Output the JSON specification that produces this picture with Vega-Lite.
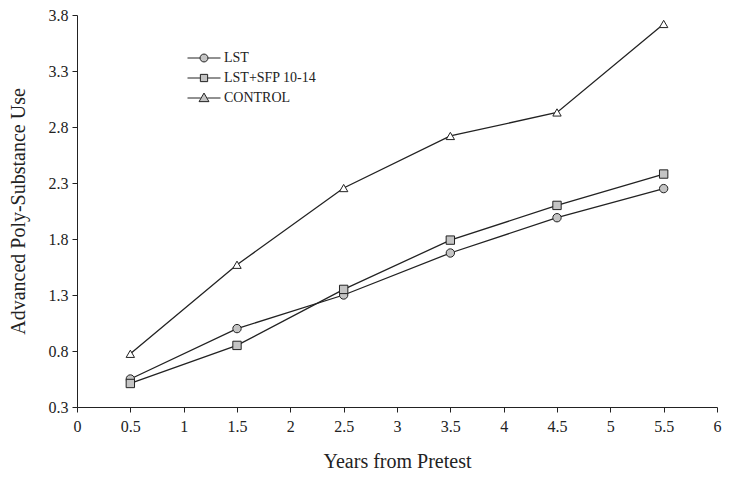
{
  "$schema": "https://vega.github.io/schema/vega-lite/v6.json",
  "width": 640,
  "height": 392,
  "autosize": "none",
  "padding": {"left": 77, "top": 15, "right": 14, "bottom": 71},
  "background": "white",
  "config": {
    "view": {"stroke": null},
    "font": "Liberation Serif",
    "axis": {"grid": false, "domainColor": "#222", "tickColor": "#222", "labelColor": "#222", "titleColor": "#222", "labelFont": "Liberation Serif", "titleFont": "Liberation Serif", "labelFontSize": 16, "titleFontSize": 20, "titleFontWeight": "normal", "tickSize": 5}
  },
  "data": {"values": [
    {"year": 0.5, "use": 0.55, "group": "LST"},
    {"year": 1.5, "use": 1.0, "group": "LST"},
    {"year": 2.5, "use": 1.3, "group": "LST"},
    {"year": 3.5, "use": 1.675, "group": "LST"},
    {"year": 4.5, "use": 1.99, "group": "LST"},
    {"year": 5.5, "use": 2.25, "group": "LST"},
    {"year": 0.5, "use": 0.51, "group": "LST+SFP 10-14"},
    {"year": 1.5, "use": 0.85, "group": "LST+SFP 10-14"},
    {"year": 2.5, "use": 1.35, "group": "LST+SFP 10-14"},
    {"year": 3.5, "use": 1.79, "group": "LST+SFP 10-14"},
    {"year": 4.5, "use": 2.1, "group": "LST+SFP 10-14"},
    {"year": 5.5, "use": 2.38, "group": "LST+SFP 10-14"},
    {"year": 0.5, "use": 0.775, "group": "CONTROL"},
    {"year": 1.5, "use": 1.57, "group": "CONTROL"},
    {"year": 2.5, "use": 2.255, "group": "CONTROL"},
    {"year": 3.5, "use": 2.72, "group": "CONTROL"},
    {"year": 4.5, "use": 2.93, "group": "CONTROL"},
    {"year": 5.5, "use": 3.72, "group": "CONTROL"}
  ]},
  "encoding": {
    "x": {"field": "year", "type": "quantitative", "title": "Years from Pretest",
      "scale": {"domain": [0, 6], "nice": false, "zero": false},
      "axis": {"values": [0, 0.5, 1, 1.5, 2, 2.5, 3, 3.5, 4, 4.5, 5, 5.5, 6], "format": "~g", "labelPadding": 6, "titlePadding": 17, "labelFlush": false}},
    "y": {"field": "use", "type": "quantitative", "title": "Advanced Poly-Substance Use",
      "scale": {"domain": [0.3, 3.8], "nice": false, "zero": false},
      "axis": {"values": [0.3, 0.8, 1.3, 1.8, 2.3, 2.8, 3.3, 3.8], "format": ".1f", "labelPadding": 4, "titlePadding": 20, "labelFlush": false}}
  },
  "layer": [
    {
      "mark": {"type": "line", "color": "#222", "strokeWidth": 1.3},
      "encoding": {"detail": {"field": "group", "type": "nominal"}}
    },
    {
      "mark": {"type": "point", "filled": true, "size": 70, "stroke": "#222", "strokeWidth": 1, "opacity": 1},
      "encoding": {
        "shape": {"field": "group", "type": "nominal",
          "scale": {"domain": ["LST", "LST+SFP 10-14", "CONTROL"], "range": ["circle", "square", "triangle-up"]},
          "legend": null},
        "fill": {"field": "group", "type": "nominal",
          "scale": {"domain": ["LST", "LST+SFP 10-14", "CONTROL"], "range": ["#c4c4c4", "#c4c4c4", "white"]},
          "legend": null}
      }
    },
    {
      "mark": {"type": "point", "filled": true, "size": 0, "opacity": 1, "stroke": "#222", "strokeWidth": 1},
      "encoding": {
        "fill": {"field": "group", "type": "nominal", "legend": null},
        "shape": {"field": "group", "type": "nominal",
          "scale": {"domain": ["LST", "LST+SFP 10-14", "CONTROL"], "range": [
            "M-1,0L-0.24,0M0.24,0L1,0M-0.24,0A0.24,0.24,0,1,1,0.24,0A0.24,0.24,0,1,1,-0.24,0Z",
            "M-1,0L-0.22,0M0.22,0L1,0M-0.22,-0.22L0.22,-0.22L0.22,0.22L-0.22,0.22Z",
            "M-1,0L-0.2,0M0.2,0L1,0M-0.3,0.22L0,-0.3L0.3,0.22Z"
          ]},
          "legend": {
            "title": null, "orient": "none", "legendX": 110, "legendY": 33,
            "symbolSize": 1089, "clipHeight": 20, "rowPadding": 0, "labelOffset": 3,
            "symbolFillColor": "#c4c4c4", "symbolStrokeColor": "#222", "symbolStrokeWidth": 1, "symbolOpacity": 1,
            "labelFont": "Liberation Serif", "labelFontSize": 14, "labelColor": "#222",
            "encode": {"symbols": {"update": {
              "stroke": {"value": "#222"},
              "strokeWidth": {"value": 1},
              "size": {"value": 1089},
              "opacity": {"value": 1}
            }}}
          }}
      }
    }
  ],
  "resolve": {"scale": {"shape": "independent"}}
}
